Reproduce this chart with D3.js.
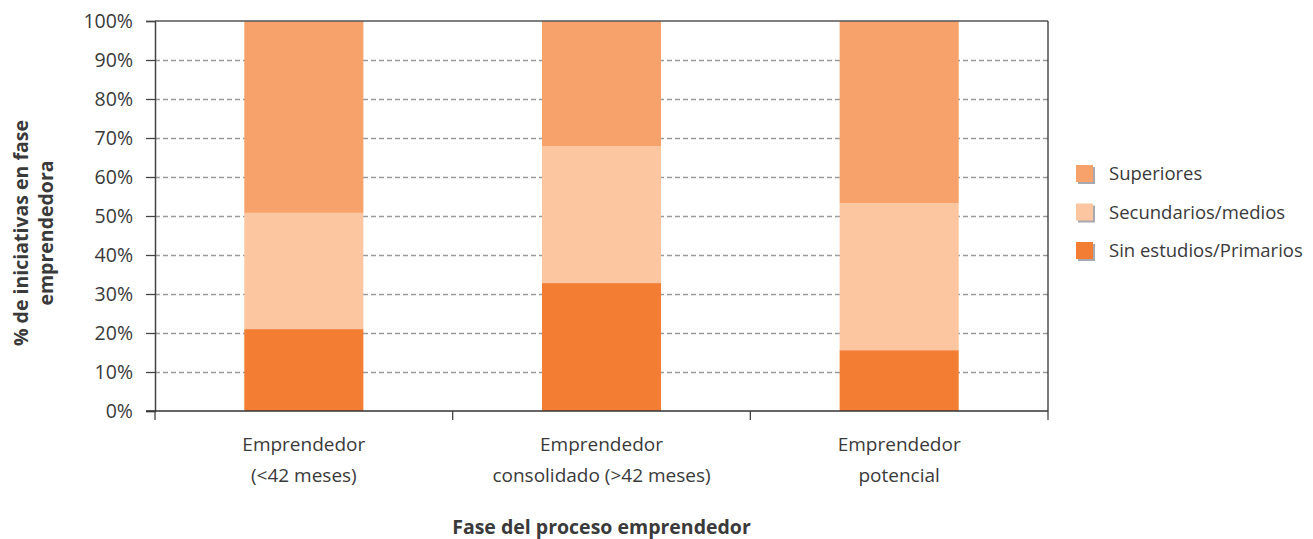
<!DOCTYPE html>
<html>
<head>
<meta charset="utf-8">
<script src="https://cdn.jsdelivr.net/npm/d3@7"></script>
<style>
  body { margin: 0; background: #fff; }
  text { font-family: "Open Sans", "Noto Sans", sans-serif; fill: #3a3a3a; }
</style>
</head>
<body>
<div id="container"></div>
<script>
const categories = [
    ["Emprendedor", "(<42 meses)"],
    ["Emprendedor", "consolidado (>42 meses)"],
    ["Emprendedor", "potencial"]
];
const seriesNames = ["Sin estudios/Primarios", "Secundarios/medios", "Superiores"];
const sinEstudios = [21.0, 32.8, 15.6];
const secundarios = [29.8, 35.1, 37.7];
const superiores = [49.2, 32.1, 46.7];
const yTicks = [0, 10, 20, 30, 40, 50, 60, 70, 80, 90, 100];

function draw() {
    const width = 1313;
    const height = 539;
    const left = 155, right = 1048, top = 21, bottom = 411;
    const colors = ["#f37e33", "#fcc6a0", "#f7a26a"];

    const svg = d3.select('#container')
        .append('svg')
        .attr('width', width)
        .attr('height', height);

    const x = d3.scaleBand()
        .domain(d3.range(categories.length))
        .range([left, right])
        .paddingInner(0.6)
        .paddingOuter(0.3);

    const y = d3.scaleLinear().domain([0, 100]).range([bottom, top]);

    // grid
    svg.append("g")
        .selectAll("line")
        .data(yTicks.filter(d => d > 0 && d < 100))
        .join("line")
        .attr("x1", left)
        .attr("x2", right)
        .attr("y1", d => y(d) + 0.5)
        .attr("y2", d => y(d) + 0.5)
        .style("stroke", "#9a9a9a")
        .style("stroke-width", 1.3)
        .style("stroke-dasharray", "5,3");

    const rows = categories.map((c, i) => [sinEstudios[i], secundarios[i], superiores[i]]);
    const stacked = d3.stack().keys([0, 1, 2])(rows);

    svg.append("g")
        .selectAll("g")
        .data(stacked)
        .join("g")
        .attr("fill", (d, i) => colors[i])
        .selectAll("rect")
        .data(d => d.map((v, i) => ({ v, i })))
        .join("rect")
        .attr("x", d => x(d.i))
        .attr("width", x.bandwidth())
        .attr("y", d => y(d.v[1]))
        .attr("height", d => y(d.v[0]) - y(d.v[1]));

    // frame
    svg.append("line")
        .attr("x1", left).attr("x2", right)
        .attr("y1", top).attr("y2", top)
        .style("stroke", "#555").style("stroke-width", 1.5);
    svg.append("line")
        .attr("x1", right).attr("x2", right)
        .attr("y1", top).attr("y2", bottom)
        .style("stroke", "#333").style("stroke-width", 1.3);

    // y axis
    const yAxis = svg.append("g")
        .attr("transform", `translate(${left},0)`)
        .call(d3.axisLeft(y).tickValues(yTicks).tickSize(9).tickFormat(d => d + "%"));
    yAxis.select(".domain").style("stroke", "#444").style("stroke-width", 1.5);
    yAxis.selectAll(".tick line").style("stroke", "#444").style("stroke-width", 1.3);
    yAxis.selectAll(".tick text")
        .attr("x", -22)
        .style("font-size", "19.5px")
        .style("font-family", "'Open Sans', sans-serif")
        .style("fill", "#3a3a3a");

    // x axis with ticks at band boundaries
    const xEdges = d3.range(categories.length + 1).map(i => left + i * (right - left) / categories.length);
    svg.append("line")
        .attr("x1", left - 9).attr("x2", right)
        .attr("y1", bottom).attr("y2", bottom)
        .style("stroke", "#333").style("stroke-width", 1.5);
    svg.append("g")
        .selectAll("line")
        .data(xEdges)
        .join("line")
        .attr("x1", d => d).attr("x2", d => d)
        .attr("y1", bottom).attr("y2", bottom + 9)
        .style("stroke", "#444").style("stroke-width", 1.3);

    const xLabels = svg.append("g")
        .selectAll("text")
        .data(categories)
        .join("text")
        .attr("x", (d, i) => x(i) + x.bandwidth() / 2)
        .attr("y", 451)
        .attr("text-anchor", "middle")
        .style("font-size", "19px");
    xLabels.selectAll("tspan")
        .data(d => d)
        .join("tspan")
        .attr("x", function () { return this.parentNode.getAttribute("x"); })
        .attr("dy", (d, i) => i === 0 ? 0 : 31)
        .text(d => d);

    svg.append("text")
        .attr("x", (left + right) / 2)
        .attr("y", 534)
        .attr("text-anchor", "middle")
        .style("font-size", "19.5px")
        .style("font-weight", "bold")
        .text("Fase del proceso emprendedor");

    const yTitle = svg.append("text")
        .attr("transform", "translate(28,233) rotate(-90)")
        .attr("text-anchor", "middle")
        .style("font-size", "19.5px")
        .style("font-weight", "bold");
    yTitle.append("tspan").attr("x", 0).attr("dy", 0).text("% de iniciativas en fase");
    yTitle.append("tspan").attr("x", 0).attr("dy", 25).text("emprendedora");

    // legend
    const legendOrder = [2, 1, 0];
    const legend = svg.append("g")
        .selectAll("g")
        .data(legendOrder)
        .join("g")
        .attr("transform", (d, i) => `translate(1076,${165 + i * 38.5})`);
    legend.append("rect")
        .attr("x", 2).attr("y", 2)
        .attr("width", 17).attr("height", 17)
        .attr("fill", "#a8a8b0");
    legend.append("rect")
        .attr("width", 17).attr("height", 17)
        .attr("fill", d => colors[d]);
    legend.append("text")
        .attr("x", 33)
        .attr("y", 15)
        .style("font-size", "18.5px")
        .text(d => seriesNames[d]);
}
draw();
</script>
</body>
</html>
